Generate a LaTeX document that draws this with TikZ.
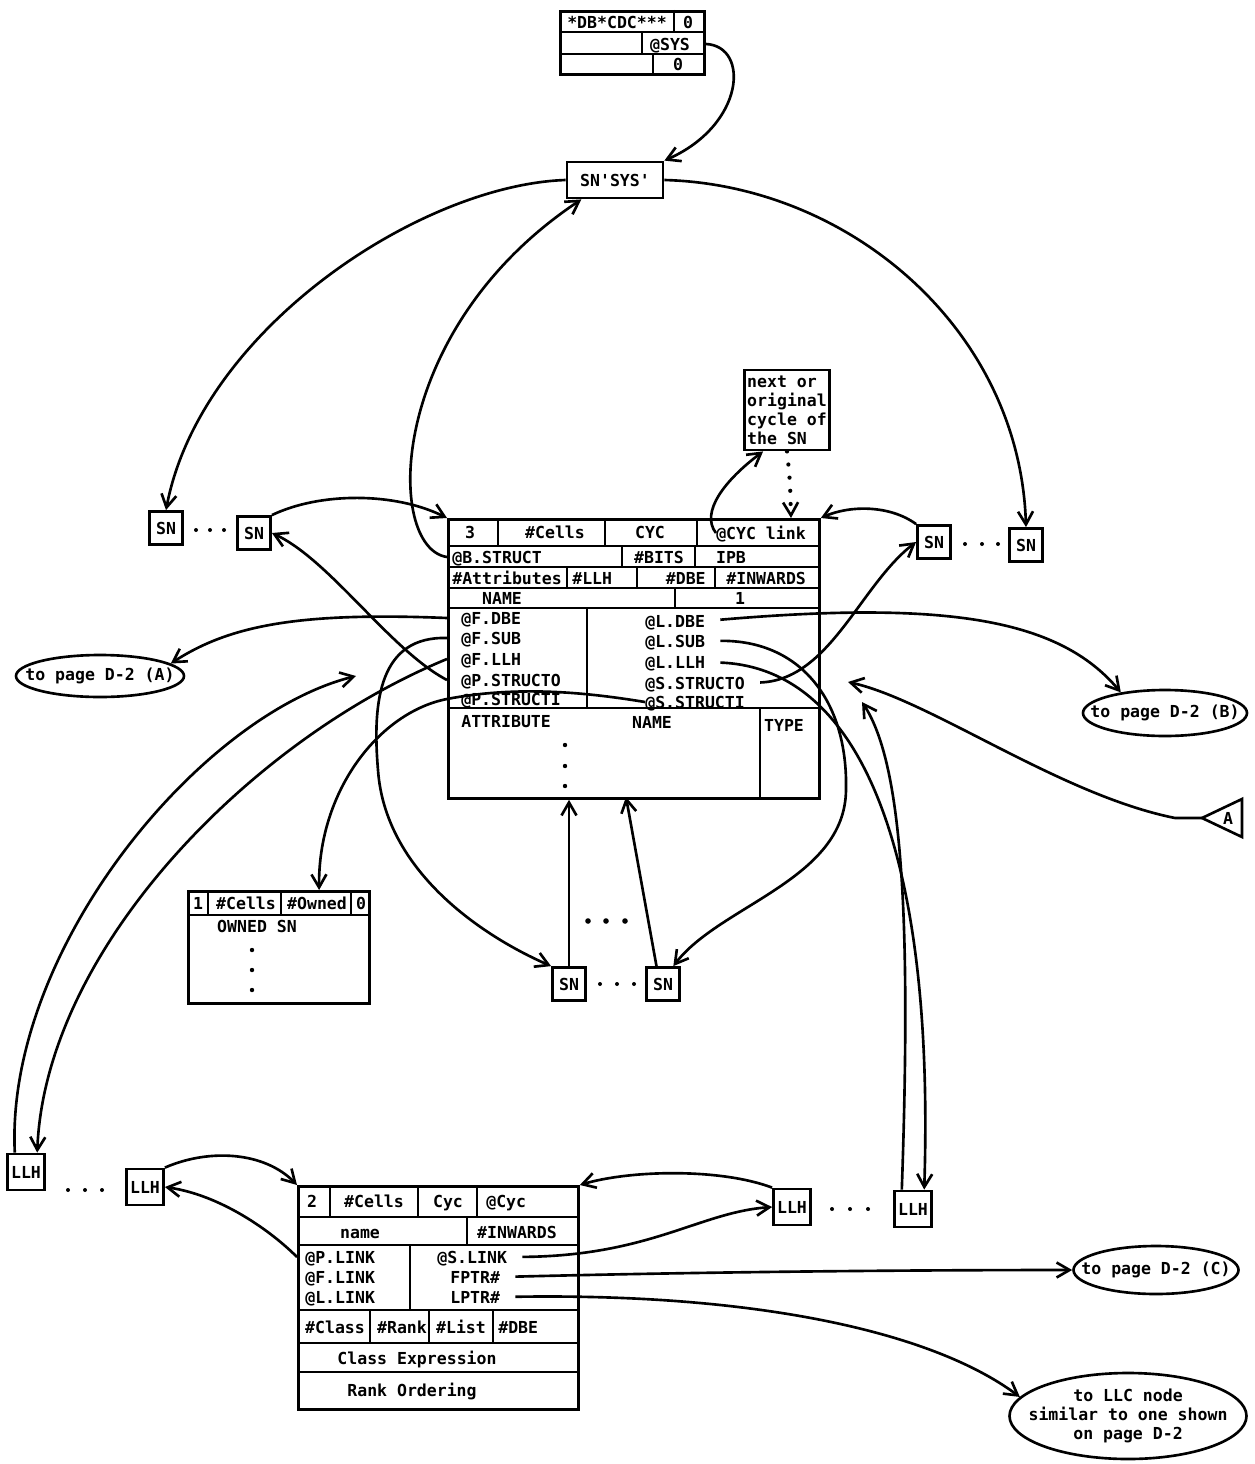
\documentclass[tikz,border=0pt]{standalone}
\usepackage{fontspec}
\setmonofont{DejaVu Sans Mono}
\usetikzlibrary{arrows.meta,shapes.geometric}
\newcommand{\recfont}{\ttfamily\bfseries\fontsize{9.4}{10.8}\selectfont}

\begin{document}
\begin{tikzpicture}[x=0.2mm, y=-0.2mm,
  font=\recfont,
  rec/.style={draw, line width=1.6pt, inner sep=0pt},
  grid/.style={line width=1.2pt},
  fld/.style={inner sep=0pt, text height=7pt, text depth=0pt},
  snb/.style={draw, line width=1.6pt, minimum width=6.6mm, minimum height=6.6mm, inner sep=0pt},
  pg/.style={draw, ellipse, line width=1.5pt, inner xsep=-4mm, inner ysep=0pt, align=center},
  lnk/.style={line width=1.5pt, -{Straight Barb[length=2.6mm,width=3mm]}},
  dotlnk/.style={line width=2.4pt, line cap=round, dash pattern=on 0pt off 7.5pt,
                 -{Straight Barb[length=2.6mm,width=3mm,line width=1.5pt]}},
  gapped/.style={shorten <=3mm}]
\useasboundingbox (0,0) rectangle (1254,1464);

% system record and SN'SYS'
\node[rec, minimum width=28.8mm, minimum height=12.6mm, anchor=north west] (sysrec) at (559,10) {};
\draw[grid] (559,32) -- (703,32) (559,54) -- (703,54) (674,10) -- (674,32) (642,32) -- (642,54) (653,54) -- (653,73);
\node[fld] at (617,22) {*DB*CDC***};
\node[fld] at (688,22) {0};
\node[fld] (atsys) at (670,44) {@SYS};
\node[fld] at (678,64) {0};
\node[snb, minimum width=19.2mm, minimum height=7.2mm] (snsys) at (615,180) {SN'SYS'};

% SN ring
\node[snb] (snL1) at (166,528) {SN};
\node[snb] (snL2) at (254,533) {SN};
\node[snb] (snR1) at (934,542) {SN};
\node[snb] (snR2) at (1026,545) {SN};
\node[snb] (snB1) at (569,984) {SN};
\node[snb] (snB2) at (663,984) {SN};
\node[snb, minimum width=7.4mm, minimum height=7.2mm] (llhL1) at (26,1172) {LLH};
\node[snb, minimum width=7.4mm, minimum height=7.2mm] (llhL2) at (145,1187) {LLH};
\node[snb, minimum width=7.4mm, minimum height=7.2mm] (llhR1) at (792,1207) {LLH};
\node[snb, minimum width=7.4mm, minimum height=7.2mm] (llhR2) at (913,1209) {LLH};
\foreach \x/\y in {196/530, 210/530, 224/530, 965/544, 982/544, 998/544, 600/984, 617/984, 634/984,
                   68/1190, 85/1190, 102/1190, 832/1209, 850/1209, 868/1209}
  \fill (\x,\y) circle[radius=2];
\foreach \x in {588,606,625} \fill (\x,921) circle[radius=2.8];

% main SN record
\node[rec, minimum width=74.2mm, minimum height=55.8mm, anchor=north west] (snbox) at (447,518) {};
\foreach \y in {546,567,588,608,708} \draw[grid] (447,\y) -- (818,\y);
\foreach \x/\ya/\yb in {498/518/546, 605/518/546, 697/518/546, 622/546/567, 695/546/567,
                        567/567/588, 637/567/588, 715/567/588, 675/588/608, 587/608/708, 760/708/797}
  \draw[grid] (\x,\ya) -- (\x,\yb);
\node[fld] at (470,532) {3};
\node[fld] at (555,532) {\#Cells};
\node[fld] at (650,532) {CYC};
\node[fld] (cyclink) at (761,533) {@CYC link};
\node[fld, anchor=west] (bstruct) at (452,557) {@B.STRUCT};
\node[fld] at (659,557) {\#BITS};
\node[fld] at (731,557) {IPB};
\node[fld, anchor=west] at (452,578) {\#Attributes};
\node[fld, anchor=west] at (572,578) {\#LLH};
\node[fld, anchor=east] at (706,578) {\#DBE};
\node[fld, anchor=west] at (726,578) {\#INWARDS};
\node[fld] at (502,598) {NAME};
\node[fld] at (740,598) {1};
\foreach \n/\t/\y in {fdbe/@F.DBE/618, fsub/@F.SUB/638, fllh/@F.LLH/659, pstro/@P.STRUCTO/680, pstri/@P.STRUCTI/699}
  \node[fld, anchor=west] (\n) at (461,\y) {\t};
\foreach \n/\t/\y in {ldbe/@L.DBE/621, lsub/@L.SUB/641, lllh/@L.LLH/662, sstro/@S.STRUCTO/683, sstri/@S.STRUCTI/702}
  \node[fld, anchor=west] (\n) at (645,\y) {\t};
\node[fld, anchor=west] at (461,721) {ATTRIBUTE};
\node[fld] at (652,722) {NAME};
\node[fld] at (784,725) {TYPE};
\foreach \y in {745,766,786} \fill (565,\y) circle[radius=2.2];

\node[rec, align=left, minimum width=17mm, minimum height=16mm] (cycbox) at (787,410) {next or\\original\\cycle of\\the SN};

% owned SN record
\node[rec, minimum width=36.2mm, minimum height=22.4mm, anchor=north west] (ownrec) at (187,890) {};
\draw[grid] (187,915) -- (368,915);
\foreach \x in {208,281,351} \draw[grid] (\x,890) -- (\x,915);
\node[fld] at (198,903) {1};
\node[fld] at (246,903) {\#Cells};
\node[fld] at (317,903) {\#Owned};
\node[fld] at (361,903) {0};
\node[fld] at (257,926) {OWNED SN};
\foreach \y in {950,970,990} \fill (252,\y) circle[radius=2.2];

% LLH record
\node[rec, minimum width=56mm, minimum height=44.6mm, anchor=north west] (llhrec) at (297,1185) {};
\foreach \y in {1217,1245,1310,1343,1372} \draw[grid] (297,\y) -- (577,\y);
\foreach \x/\ya/\yb in {330/1185/1217, 418/1185/1217, 477/1185/1217, 467/1217/1245,
                        410/1245/1310, 370/1310/1343, 429/1310/1343, 493/1310/1343}
  \draw[grid] (\x,\ya) -- (\x,\yb);
\node[fld] at (312,1201) {2};
\node[fld] at (374,1201) {\#Cells};
\node[fld] at (448,1201) {Cyc};
\node[fld, anchor=west] at (486,1201) {@Cyc};
\node[fld] at (360,1232) {name};
\node[fld] at (517,1232) {\#INWARDS};
\foreach \n/\t/\y in {plink/@P.LINK/1257, flink/@F.LINK/1277, llink/@L.LINK/1297}
  \node[fld, anchor=west] (\n) at (305,\y) {\t};
\node[fld, anchor=west] (slink) at (437,1257) {@S.LINK};
\node[fld, anchor=west] (fptr) at (450,1277) {FPTR\#};
\node[fld, anchor=west] (lptr) at (450,1297) {LPTR\#};
\node[fld] at (335,1327) {\#Class};
\node[fld] at (402,1327) {\#Rank};
\node[fld] at (461,1327) {\#List};
\node[fld, anchor=west] at (498,1327) {\#DBE};
\node[fld] at (417,1358) {Class Expression};
\node[fld] at (412,1390) {Rank Ordering};

% off-page references
\node[pg, minimum width=33.6mm, minimum height=8.4mm] (pgA) at (100,676) {to page D-2 (A)};
\node[pg, minimum width=32.8mm, minimum height=9.2mm] (pgB) at (1165,713) {to page D-2 (B)};
\node[pg, minimum width=33mm, minimum height=9.6mm] (pgC) at (1156,1270) {to page D-2 (C)};
\node[pg, minimum width=47.4mm, minimum height=17.2mm] (llc) at (1128,1416) {to LLC node\\similar to one shown\\on page D-2};
\draw[line width=1.5pt] (1202,818) -- (1242,799) -- (1242,837) -- cycle;
\node[fld] (triA) at (1228,818) {A};
\coordinate (triTip) at (1202,818);
\coordinate (fllhin) at (356,676);
\coordinate (lrin) at (862,702);
\coordinate (lain) at (848,682);
\coordinate (cycin) at (791,518);
\coordinate (upB) at (626,797);

% links
\draw[lnk] (sysrec.east |- atsys) .. controls (750,46) and (745,125) .. (snsys.north east);
\draw[lnk] (snsys.west) .. controls (420,185) and (200,330) .. (snL1.north);
\draw[lnk] (snsys.east) .. controls (850,185) and (1020,330) .. (snR2.north);
\draw[lnk] (snbox.west |- bstruct) .. controls (385,548) and (385,330) .. (snsys.-150);
\draw[lnk] (snL2.north east) .. controls (320,492) and (395,492) .. (snbox.north west);
\draw[lnk] (snbox.west |- pstro) .. controls (390,650) and (330,560) .. (snL2.east);
\draw[lnk] (snR1.north west) .. controls (890,505) and (850,505) .. (snbox.north east);
\draw[lnk, gapped] (sstro.east) .. controls (830,680) and (860,585) .. (snR1.west);
\draw[lnk] (cyclink.west) .. controls (700,512) and (725,480) .. (cycbox.-120);
\draw[dotlnk] (cycbox.south) .. controls (790,480) .. (cycin);
\draw[lnk] (snbox.west |- fdbe) .. controls (300,612) and (230,625) .. (pgA.10);
\draw[lnk, gapped] (ldbe.east) .. controls (950,600) and (1060,620) .. (pgB.155);
\draw[lnk] (snbox.west |- fsub) .. controls (380,636) and (372,700) .. (378,770)
  .. controls (385,870) and (480,935) .. (snB1.north west);
\draw[lnk, gapped] (lsub.east) .. controls (800,640) and (848,700) .. (846,790)
  .. controls (845,880) and (720,905) .. (snB2.60);
\draw[lnk] (snB1.north) -- (snB1.north |- snbox.south);
\draw[lnk] (snB2.110) -- (upB);
\draw[lnk] (snbox.west |- fllh) .. controls (250,740) and (45,950) .. (llhL1.60);
\draw[lnk] (llhL1.120) .. controls (5,950) and (200,715) .. (fllhin);
\draw[lnk] (sstri.west) .. controls (590,693) and (520,685) .. (snbox.west |- pstri)
  .. controls (380,712) and (318,790) .. (ownrec.55);
\draw[lnk, gapped] (lllh.east) .. controls (860,668) and (935,850) .. (llhR2.60);
\draw[lnk] (llhR2.120) .. controls (912,900) and (900,760) .. (lrin);
\draw[lnk] (triTip) -- (1175,818) .. controls (1060,795) and (930,700) .. (lain);
\draw[lnk] (llhL2.north east) .. controls (210,1148) and (265,1152) .. (llhrec.north west);
\draw[lnk] (llhrec.west |- plink) .. controls (270,1230) and (220,1195) .. (llhL2.east);
\draw[lnk] (llhR1.north west) .. controls (720,1168) and (630,1170) .. (llhrec.north east);
\draw[lnk, gapped] (slink.east) .. controls (650,1256) and (700,1212) .. (llhR1.west);
\draw[lnk, gapped] (fptr.east) .. controls (700,1272) and (900,1270) .. (pgC.west);
\draw[lnk, gapped] (lptr.east) .. controls (750,1293) and (930,1330) .. (llc.170);
\end{tikzpicture}
\end{document}
